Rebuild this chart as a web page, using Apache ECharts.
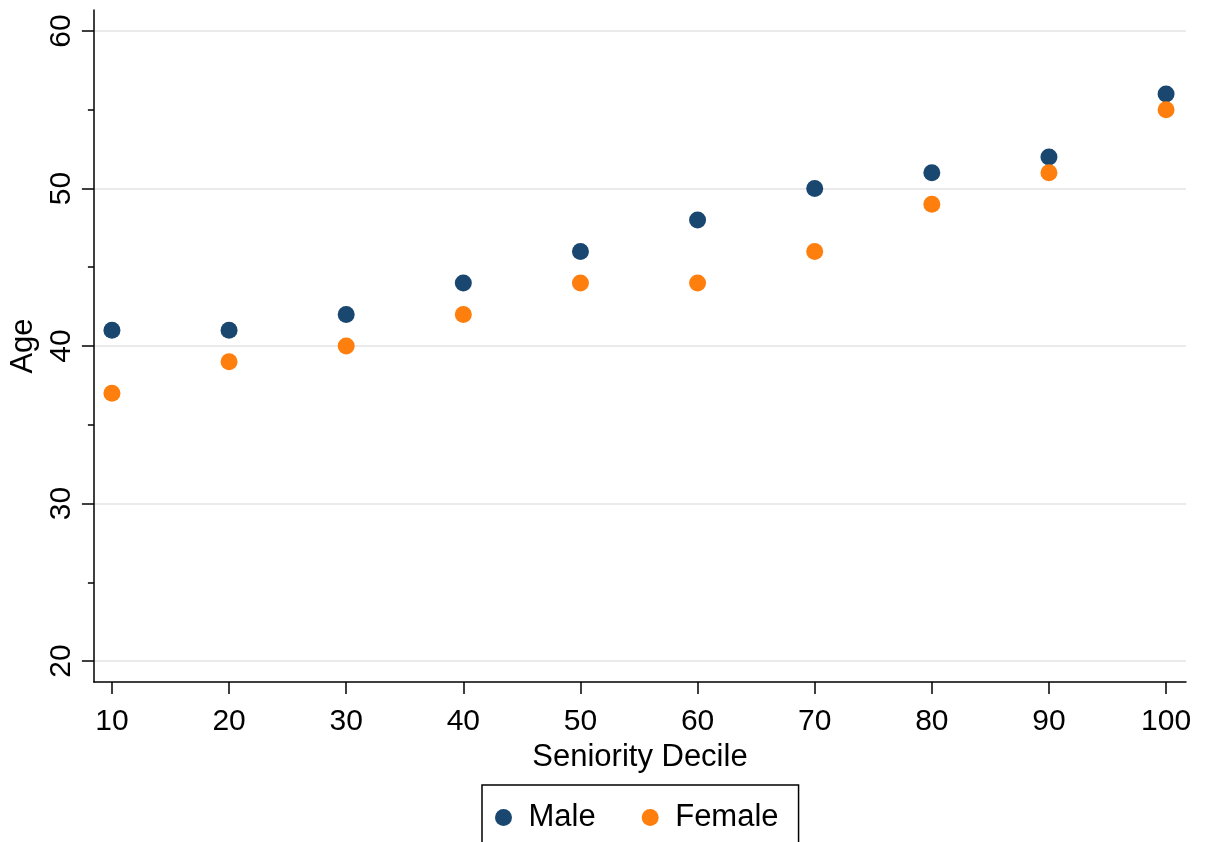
<!DOCTYPE html>
<html>
<head>
<meta charset="utf-8">
<script src="https://cdn.jsdelivr.net/npm/echarts@6/dist/echarts.min.js"></script>
<style>
html,body{margin:0;padding:0;background:#fff;}
#chart{width:1205px;height:842px;}
</style>
</head>
<body>
<div id="chart"></div>
<script>
const deciles = [10, 20, 30, 40, 50, 60, 70, 80, 90, 100];
const maleAge = [41, 41, 42, 44, 46, 48, 50, 51, 52, 56];
const femaleAge = [37, 39, 40, 42, 44, 44, 46, 49, 51, 55];
const yTicks = [20, 30, 40, 50, 60];
const yMinorTicks = [25, 35, 45, 55];
const xTicks = [10, 20, 30, 40, 50, 60, 70, 80, 90, 100];

const FONT = '"Liberation Sans", Arial, sans-serif';
const chart = echarts.init(document.getElementById('chart'), null, {renderer: 'canvas'});

const yMin = 18.667, yMax = 61.333;
const xMin = 8.46, xMax = 101.7;

chart.setOption({
  animation: false,
  backgroundColor: '#ffffff',
  grid: {left: 93, right: 19, top: 10, bottom: 160},
  legend: {
    data: ['Male', 'Female'],
    left: 482,
    top: 785,
    padding: [17, 20, 14, 13],
    itemGap: 46,
    itemWidth: 40,
    itemHeight: 17,
    borderColor: '#000',
    borderWidth: 1.5,
    icon: 'circle',
    textStyle: {fontFamily: FONT, fontSize: 31, color: '#000'}
  },
  xAxis: {
    type: 'value',
    min: xMin,
    max: xMax,
    name: 'Seniority Decile',
    nameLocation: 'middle',
    nameGap: 48,
    nameTextStyle: {fontFamily: FONT, fontSize: 31, color: '#000'},
    axisLine: {show: true, onZero: false, lineStyle: {color: '#000', width: 1.5}},
    axisTick: {show: true, length: 12, customValues: xTicks, lineStyle: {color: '#000', width: 1.5}},
    axisLabel: {customValues: xTicks, margin: 25, fontFamily: FONT, fontSize: 30, color: '#000'},
    splitLine: {show: false}
  },
  yAxis: [{
    type: 'value',
    min: yMin,
    max: yMax,
    name: 'Age',
    nameLocation: 'middle',
    nameGap: 53,
    nameRotate: 90,
    nameTextStyle: {fontFamily: FONT, fontSize: 31, color: '#000'},
    axisLine: {show: true, onZero: false, lineStyle: {color: '#000', width: 1.5}},
    axisTick: {show: true, length: 12, customValues: yTicks, lineStyle: {color: '#000', width: 1.5}},
    axisLabel: {customValues: yTicks, rotate: 90, margin: 17, fontFamily: FONT, fontSize: 30, color: '#000'},
    splitLine: {show: true, lineStyle: {color: '#eaeaea', width: 2}}
  }, {
    type: 'value',
    min: yMin,
    max: yMax,
    position: 'left',
    axisLine: {show: false},
    axisTick: {show: true, length: 6, customValues: yMinorTicks, lineStyle: {color: '#000', width: 1.5}},
    axisLabel: {show: false},
    splitLine: {show: false}
  }],
  series: [{
    name: 'Male',
    type: 'scatter',
    symbol: 'circle',
    symbolSize: 17,
    itemStyle: {color: '#1a476f', opacity: 1},
    data: deciles.map((d, i) => [d, maleAge[i]])
  }, {
    name: 'Female',
    type: 'scatter',
    symbol: 'circle',
    symbolSize: 17,
    itemStyle: {color: '#ff7f0e', opacity: 1},
    data: deciles.map((d, i) => [d, femaleAge[i]])
  }]
});
</script>
</body>
</html>
